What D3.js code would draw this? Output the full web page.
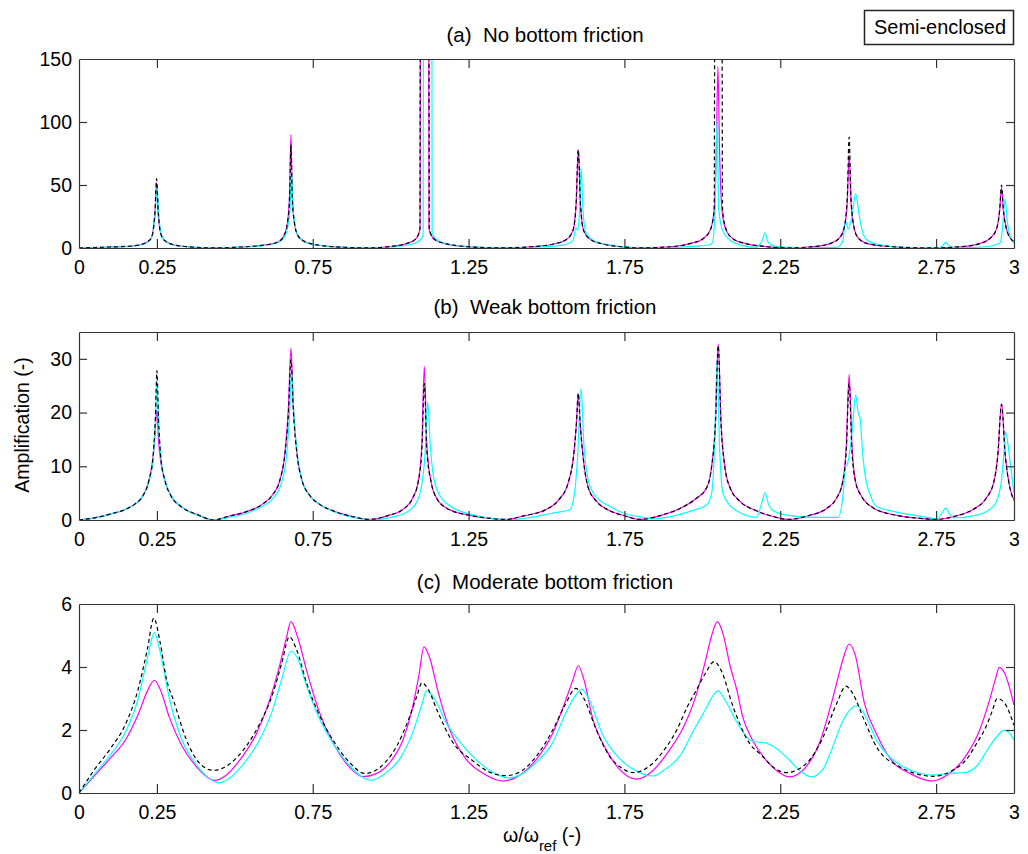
<!DOCTYPE html>
<html>
<head>
<meta charset="utf-8">
<script src="https://cdn.jsdelivr.net/npm/d3@7"></script>
<style>
  html, body { margin: 0; padding: 0; background: #fff; }
  svg { display: block; }
  text { font-family: "Liberation Sans", Arial, sans-serif; fill: #000; }
</style>
</head>
<body>
<svg id="chart" width="1028" height="854"></svg>
<script>
// ---------------- DATA ----------------
const xTicks = [0, 0.25, 0.75, 1.25, 1.75, 2.25, 2.75, 3];
const xTickLabels = ["0", "0.25", "0.75", "1.25", "1.75", "2.25", "2.75", "3"];
const panelTitles = ["(a)  No bottom friction", "(b)  Weak bottom friction", "(c)  Moderate bottom friction"];
const yDomains = [[0, 150], [0, 35], [0, 6]];
const yTicksA = [0, 50, 100, 150];
const yTicksB = [0, 10, 20, 30];
const yTicksC = [0, 2, 4, 6];
const legendLabel = "Semi-enclosed";

// Panel (a): no bottom friction  [omega/omega_ref, amplification]
const aMagenta = [[0,0],[0.1,0.8],[0.17,1.6],[0.2,2.8],[0.22,5],[0.232,8],[0.238,14],[0.244,28],[0.249,52],[0.254,28],[0.26,14],[0.268,8],[0.28,5],[0.3,2.8],[0.34,1.2],[0.43,0.1],[0.52,0.8],[0.6,2.5],[0.64,5],[0.658,10],[0.67,22],[0.676,45],[0.68,90],[0.684,45],[0.69,22],[0.702,10],[0.725,5],[0.77,2.2],[0.85,0.6],[0.93,0.1],[1.0,1.2],[1.05,3.5],[1.08,7],[1.094,15],[1.1,1500],[1.117,1500],[1.123,15],[1.14,7],[1.175,3.5],[1.25,1],[1.35,0.1],[1.45,1],[1.52,3],[1.565,7],[1.585,14],[1.595,35],[1.602,78],[1.609,35],[1.619,14],[1.64,7],[1.685,3],[1.74,1],[1.8,0.1],[1.9,1],[1.96,3.5],[2.0,7],[2.025,14],[2.038,30],[2.045,80],[2.05,144],[2.055,80],[2.063,30],[2.076,14],[2.1,7],[2.14,3.5],[2.2,1.2],[2.28,0.1],[2.36,1.2],[2.41,3.5],[2.44,8],[2.455,16],[2.465,36],[2.471,74],[2.477,36],[2.487,16],[2.5,8],[2.53,3.5],[2.6,1.2],[2.68,0.3],[2.75,0.1],[2.83,1],[2.89,3.5],[2.925,8],[2.945,16],[2.954,30],[2.96,48],[2.966,30],[2.975,16],[2.988,8],[3,5]];
const aCyan = [[0,0],[0.1,0.7],[0.17,1.5],[0.2,2.6],[0.22,4.6],[0.232,7.5],[0.238,13],[0.244,26],[0.25,48],[0.256,26],[0.262,13],[0.27,7.5],[0.282,4.6],[0.3,2.6],[0.34,1.1],[0.43,0.1],[0.52,0.7],[0.6,2.2],[0.64,4.5],[0.66,9],[0.672,20],[0.678,35],[0.682,62],[0.686,35],[0.692,20],[0.704,9],[0.728,4.5],[0.775,2],[0.85,0.5],[0.94,0.1],[1.0,0.8],[1.05,2.2],[1.085,4.5],[1.104,10],[1.11,1500],[1.127,1500],[1.133,12],[1.15,6],[1.185,3],[1.25,1],[1.35,0.1],[1.45,0.6],[1.52,1.5],[1.565,3],[1.585,6],[1.595,16],[1.6,14],[1.606,30],[1.611,64],[1.617,30],[1.627,12],[1.65,6],[1.7,2.5],[1.76,0.8],[1.84,0.1],[1.92,0.6],[1.98,1.5],[2.02,2.4],[2.032,4],[2.041,30],[2.047,101],[2.053,30],[2.065,14],[2.09,6],[2.12,2.5],[2.17,0.5],[2.192,6],[2.201,12],[2.21,5],[2.23,1.5],[2.28,0.5],[2.35,0.3],[2.43,0.5],[2.45,5],[2.46,21],[2.468,15],[2.48,25],[2.492,43],[2.504,25],[2.515,12],[2.53,6],[2.57,2.5],[2.62,1],[2.7,0.3],[2.76,0.3],[2.772,2],[2.781,4.5],[2.79,2],[2.81,0.4],[2.88,0.6],[2.93,1.8],[2.955,4],[2.963,15],[2.971,39],[2.979,20],[2.988,9],[3,4]];
const aBlack = [[0,0],[0.1,0.8],[0.17,1.6],[0.2,2.8],[0.22,5],[0.232,8],[0.238,14],[0.244,30],[0.249,55],[0.254,30],[0.26,14],[0.268,8],[0.28,5],[0.3,2.8],[0.34,1.2],[0.43,0.1],[0.52,0.8],[0.6,2.5],[0.64,5],[0.658,10],[0.67,22],[0.676,42],[0.68,82],[0.684,42],[0.69,22],[0.702,10],[0.725,5],[0.77,2.2],[0.85,0.6],[0.93,0.1],[1.0,1.2],[1.05,3.5],[1.08,7],[1.094,15],[1.099,1500],[1.119,1500],[1.124,15],[1.14,7],[1.175,3.5],[1.25,1],[1.35,0.1],[1.45,1],[1.52,3],[1.565,7],[1.585,14],[1.595,35],[1.602,78],[1.609,35],[1.619,14],[1.64,7],[1.685,3],[1.74,1],[1.8,0.1],[1.9,1],[1.96,3.5],[2.0,7],[2.025,14],[2.038,30],[2.046,1500],[2.057,1500],[2.065,30],[2.078,14],[2.1,7],[2.14,3.5],[2.2,1.2],[2.28,0.1],[2.36,1.2],[2.41,3.5],[2.44,8],[2.455,16],[2.465,40],[2.471,88],[2.477,40],[2.487,16],[2.5,8],[2.53,3.5],[2.6,1.2],[2.68,0.3],[2.75,0.1],[2.83,1],[2.89,3.5],[2.925,8],[2.945,16],[2.954,30],[2.96,50],[2.966,30],[2.975,16],[2.988,8],[3,5]];

// Panel (b): weak bottom friction
const bMagenta = [[0,0],[0.05,0.4],[0.1,1.1],[0.15,2],[0.18,3],[0.205,4.5],[0.225,7.5],[0.238,12],[0.245,17],[0.25,20.5],[0.255,15],[0.262,11],[0.275,7.5],[0.295,4.5],[0.33,2.4],[0.38,1],[0.431,0],[0.48,0.7],[0.54,1.6],[0.59,3],[0.62,4.6],[0.645,7.5],[0.66,12],[0.672,21],[0.68,32],[0.688,21],[0.7,12],[0.715,7.5],[0.74,4.6],[0.77,3],[0.82,1.6],[0.88,0.6],[0.934,0.1],[0.99,0.8],[1.04,2],[1.07,4],[1.088,7],[1.1,14],[1.108,28.6],[1.116,14],[1.13,7],[1.148,4],[1.18,2.2],[1.25,0.9],[1.32,0.3],[1.367,0.1],[1.43,0.8],[1.5,2],[1.54,3.8],[1.57,7],[1.587,12],[1.596,18],[1.602,23.5],[1.608,18],[1.617,12],[1.634,6],[1.66,3.5],[1.7,1.8],[1.75,0.8],[1.8,0.1],[1.87,0.9],[1.93,2.2],[1.98,4],[2.014,6],[2.03,10],[2.042,18],[2.051,32.8],[2.06,18],[2.072,10],[2.089,6],[2.12,3.5],[2.17,1.8],[2.23,0.6],[2.275,0.1],[2.34,0.8],[2.4,2.2],[2.43,4],[2.45,7],[2.462,14],[2.471,27.1],[2.48,14],[2.492,7],[2.51,4.5],[2.55,2.2],[2.62,0.9],[2.7,0.3],[2.746,0.1],[2.81,0.7],[2.87,2],[2.91,4],[2.935,7],[2.948,12],[2.96,21.7],[2.972,12],[2.985,6.5],[3,3.7]];
const bCyan = [[0,0],[0.05,0.4],[0.1,1.1],[0.15,2],[0.18,3],[0.205,4.4],[0.225,7.2],[0.238,11.5],[0.245,18],[0.25,26],[0.255,18],[0.263,11.5],[0.277,7.2],[0.297,4.4],[0.33,2.4],[0.38,0.9],[0.435,0],[0.48,0.5],[0.54,1.3],[0.59,2.6],[0.625,4.2],[0.65,7],[0.665,11.5],[0.675,19],[0.682,27.6],[0.69,19],[0.702,11.5],[0.717,7],[0.742,4.4],[0.775,2.8],[0.82,1.5],[0.88,0.5],[0.94,0.05],[1.0,0.5],[1.05,1.4],[1.08,3],[1.098,6],[1.11,12],[1.119,22],[1.127,14],[1.135,9],[1.15,5.5],[1.17,3.6],[1.2,2.3],[1.26,1.0],[1.32,0.3],[1.38,0.05],[1.45,0.5],[1.52,1.3],[1.575,1.9],[1.59,5],[1.6,12],[1.611,24.5],[1.62,14],[1.632,8],[1.65,5],[1.675,3.5],[1.704,2.5],[1.75,1.2],[1.81,0.5],[1.84,0.2],[1.918,0.9],[1.97,1.8],[2.014,2.8],[2.03,5],[2.04,15],[2.047,29.5],[2.055,14],[2.067,4.8],[2.11,1.7],[2.174,0.5],[2.19,3],[2.201,5.1],[2.212,3],[2.228,1.7],[2.27,0.9],[2.345,0.5],[2.436,0.5],[2.452,5],[2.458,9.6],[2.466,10.5],[2.48,16],[2.492,23.3],[2.5,20],[2.506,19],[2.515,12],[2.522,8.5],[2.54,4.5],[2.559,2.5],[2.613,1.6],[2.72,0.5],[2.752,0.2],[2.768,1.2],[2.781,2.2],[2.795,1],[2.805,0.4],[2.88,0.9],[2.933,2.5],[2.95,4.5],[2.96,7.4],[2.967,12],[2.973,16.4],[2.987,11],[3,5]];
const bBlack = [[0,0],[0.05,0.4],[0.1,1.1],[0.15,2],[0.18,3],[0.205,4.5],[0.225,7.5],[0.238,12],[0.245,19],[0.25,27.8],[0.255,19],[0.262,12],[0.275,7.5],[0.295,4.5],[0.33,2.4],[0.38,1],[0.431,0],[0.48,0.7],[0.54,1.6],[0.59,3],[0.62,4.6],[0.645,7.5],[0.66,12],[0.672,20],[0.68,29.8],[0.688,20],[0.7,12],[0.715,7.5],[0.74,4.6],[0.77,3],[0.82,1.6],[0.88,0.6],[0.934,0.1],[0.99,0.8],[1.04,2],[1.07,4],[1.088,7],[1.1,13],[1.108,25.4],[1.116,13],[1.13,7],[1.148,4],[1.18,2.2],[1.25,0.9],[1.32,0.3],[1.367,0.1],[1.43,0.8],[1.5,2],[1.54,3.8],[1.57,7],[1.587,12],[1.596,18],[1.602,23.6],[1.608,18],[1.617,12],[1.634,6],[1.66,3.5],[1.7,1.8],[1.75,0.8],[1.8,0.1],[1.87,0.9],[1.93,2.2],[1.98,4],[2.014,6],[2.03,10],[2.042,18],[2.051,32.5],[2.06,18],[2.072,10],[2.089,6],[2.12,3.5],[2.17,1.8],[2.23,0.6],[2.275,0.1],[2.34,0.8],[2.4,2.2],[2.43,4],[2.45,7],[2.462,13],[2.471,25.4],[2.48,13],[2.492,7],[2.51,4.5],[2.55,2.2],[2.62,0.9],[2.7,0.3],[2.746,0.1],[2.81,0.7],[2.87,2],[2.91,4],[2.935,7],[2.948,12],[2.96,21.5],[2.972,12],[2.985,6.5],[3,3.7]];

// Panel (c): moderate bottom friction
const cMagenta = [[0,0],[0.05,0.55],[0.1,1.1],[0.15,1.7],[0.19,2.5],[0.22,3.25],[0.242,3.58],[0.26,3.3],[0.29,2.4],[0.33,1.5],[0.38,0.8],[0.42,0.45],[0.435,0.4],[0.47,0.55],[0.52,1.1],[0.57,1.9],[0.61,2.9],[0.64,3.9],[0.665,4.9],[0.68,5.44],[0.7,5.0],[0.73,3.9],[0.77,2.6],[0.82,1.5],[0.87,0.8],[0.91,0.52],[0.95,0.6],[1.0,1.0],[1.04,1.7],[1.07,2.7],[1.09,3.7],[1.107,4.64],[1.125,4.3],[1.15,3.3],[1.19,2.0],[1.24,1.1],[1.3,0.6],[1.36,0.38],[1.42,0.6],[1.47,1.1],[1.52,1.9],[1.56,2.9],[1.585,3.6],[1.602,4.04],[1.62,3.6],[1.65,2.3],[1.69,1.4],[1.73,0.8],[1.789,0.44],[1.84,0.7],[1.89,1.3],[1.94,2.1],[1.98,3.1],[2.01,4.2],[2.03,5.0],[2.048,5.44],[2.065,5.1],[2.09,4.0],[2.11,3.3],[2.13,2.4],[2.16,1.7],[2.2,1.1],[2.24,0.7],[2.279,0.51],[2.33,0.8],[2.38,1.7],[2.41,2.7],[2.43,3.45],[2.45,4.2],[2.471,4.73],[2.49,4.4],[2.52,2.85],[2.56,1.85],[2.61,1.0],[2.67,0.6],[2.736,0.38],[2.79,0.6],[2.84,1.1],[2.89,2.0],[2.92,2.9],[2.94,3.6],[2.953,3.99],[2.97,3.8],[3,2.79]];
const cCyan = [[0,0],[0.05,0.6],[0.1,1.2],[0.15,1.95],[0.19,3.0],[0.22,4.3],[0.242,5.09],[0.26,4.5],[0.29,3.0],[0.33,1.7],[0.38,0.85],[0.42,0.45],[0.447,0.32],[0.48,0.45],[0.53,0.95],[0.58,1.7],[0.62,2.6],[0.65,3.6],[0.68,4.5],[0.7,4.3],[0.73,3.4],[0.77,2.4],[0.82,1.5],[0.87,0.85],[0.91,0.5],[0.938,0.4],[0.98,0.6],[1.03,1.1],[1.07,1.9],[1.1,2.8],[1.115,3.24],[1.14,3.0],[1.18,2.2],[1.22,1.65],[1.27,1.1],[1.32,0.7],[1.35,0.55],[1.38,0.48],[1.42,0.6],[1.47,1.0],[1.52,1.6],[1.56,2.5],[1.59,3.05],[1.613,3.29],[1.64,2.9],[1.68,1.85],[1.72,1.25],[1.77,0.8],[1.81,0.6],[1.843,0.54],[1.88,0.75],[1.93,1.2],[1.97,1.95],[2.01,2.65],[2.035,3.1],[2.051,3.24],[2.07,3.0],[2.11,2.26],[2.15,1.7],[2.174,1.62],[2.2,1.6],[2.24,1.4],[2.28,1.04],[2.32,0.65],[2.35,0.51],[2.39,0.8],[2.41,1.25],[2.452,2.31],[2.48,2.7],[2.497,2.77],[2.52,2.5],[2.559,1.68],[2.6,1.15],[2.645,0.83],[2.7,0.62],[2.741,0.57],[2.79,0.62],[2.843,0.65],[2.88,0.85],[2.923,1.5],[2.95,1.85],[2.966,1.99],[2.98,1.95],[3,1.68]];
const cBlack = [[0,0],[0.05,0.75],[0.1,1.4],[0.15,2.2],[0.19,3.3],[0.22,4.6],[0.24,5.55],[0.26,4.8],[0.281,3.6],[0.303,2.95],[0.345,1.68],[0.388,0.93],[0.431,0.72],[0.48,0.9],[0.53,1.4],[0.58,2.2],[0.62,3.1],[0.65,4.1],[0.675,4.96],[0.7,4.5],[0.73,3.5],[0.77,2.5],[0.82,1.6],[0.87,0.95],[0.918,0.62],[0.97,0.85],[1.02,1.5],[1.06,2.4],[1.085,3.1],[1.1,3.5],[1.12,3.3],[1.15,2.6],[1.2,1.6],[1.26,1.05],[1.32,0.65],[1.37,0.55],[1.42,0.7],[1.47,1.2],[1.52,2.0],[1.56,2.8],[1.594,3.32],[1.62,3.0],[1.66,2.0],[1.7,1.2],[1.74,0.8],[1.779,0.65],[1.83,0.85],[1.88,1.4],[1.918,2.0],[1.95,2.7],[1.981,3.27],[2.01,3.8],[2.038,4.17],[2.06,3.9],[2.1,2.7],[2.15,1.6],[2.19,1.2],[2.23,0.8],[2.27,0.65],[2.33,0.9],[2.388,1.78],[2.431,2.84],[2.461,3.39],[2.48,3.2],[2.52,2.3],[2.559,1.46],[2.63,0.85],[2.69,0.6],[2.74,0.53],[2.8,0.7],[2.85,1.1],[2.88,1.57],[2.91,2.1],[2.93,2.6],[2.946,3.0],[2.97,2.85],[3,2.15]];

// ---------------- DRAWING ----------------
const svg = d3.select("#chart");
const FONT = 19.5;
const TITLE_FONT = 20.5;
const x = d3.scaleLinear().domain([0, 3]).range([79, 1014]);

const panels = [
  { top: 59,  bottom: 248, domain: yDomains[0], ticks: yTicksA, series: [aMagenta, aCyan, aBlack], title: panelTitles[0], titleY: 42 },
  { top: 332, bottom: 520, domain: yDomains[1], ticks: yTicksB, series: [bMagenta, bCyan, bBlack], title: panelTitles[1], titleY: 314 },
  { top: 604, bottom: 793, domain: yDomains[2], ticks: yTicksC, series: [cMagenta, cCyan, cBlack], title: panelTitles[2], titleY: 589 }
];
const styles = [
  { color: "#ff00ff", dash: null },
  { color: "#00ffff", dash: null },
  { color: "#000000", dash: "4,3" }
];

panels.forEach((p, i) => {
  const y = d3.scaleLinear().domain(p.domain).range([p.bottom, p.top]);
  const g = svg.append("g");

  const clipId = "clip" + i;
  svg.append("clipPath").attr("id", clipId)
    .append("rect").attr("x", x(0)).attr("y", p.top)
    .attr("width", x(3) - x(0)).attr("height", p.bottom - p.top);

  const line = d3.line().x(d => x(d[0])).y(d => y(d[1])).curve(d3.curveMonotoneX);
  const lines = g.append("g").attr("clip-path", `url(#${clipId})`);
  p.series.forEach((s, k) => {
    lines.append("path").datum(s)
      .attr("d", line)
      .attr("fill", "none")
      .attr("stroke", styles[k].color)
      .attr("stroke-width", 1.2)
      .attr("stroke-dasharray", styles[k].dash);
  });

  const axisColor = "#333";
  const fmt = (d) => xTickLabels[xTicks.indexOf(d)];
  const gb = g.append("g").attr("transform", `translate(0,${p.bottom})`)
    .call(d3.axisBottom(x).tickValues(xTicks).tickFormat(fmt).tickSize(-9).tickSizeOuter(0).tickPadding(12.2));
  const gt = g.append("g").attr("transform", `translate(0,${p.top})`)
    .call(d3.axisTop(x).tickValues(xTicks).tickFormat("").tickSize(-9).tickSizeOuter(0));
  const gl = g.append("g").attr("transform", `translate(${x(0)},0)`)
    .call(d3.axisLeft(y).tickValues(p.ticks).tickFormat(d3.format("d")).tickSize(-8).tickSizeOuter(0).tickPadding(7));
  const gr = g.append("g").attr("transform", `translate(${x(3)},0)`)
    .call(d3.axisRight(y).tickValues(p.ticks).tickFormat("").tickSize(-8).tickSizeOuter(0));
  [gb, gt, gl, gr].forEach(a => {
    a.selectAll("path.domain").attr("stroke", axisColor).attr("stroke-width", 1.2);
    a.selectAll(".tick line").attr("stroke", axisColor).attr("stroke-width", 1.2);
    a.selectAll("text").attr("font-family", '"Liberation Sans", Arial, sans-serif')
      .attr("font-size", FONT).attr("fill", "#000");
  });
  [gb, gt].forEach(a => a.selectAll(".tick line").filter(d => d === 0 || d === 3).attr("stroke", "none"));
  [gl, gr].forEach(a => a.selectAll(".tick line").filter(d => d === p.domain[0] || d === p.domain[1]).attr("stroke", "none"));

  svg.append("text")
    .attr("x", 545).attr("y", p.titleY)
    .attr("text-anchor", "middle")
    .attr("font-size", TITLE_FONT)
    .style("white-space", "pre")
    .text(p.title);
});

// y-axis label
svg.append("text")
  .attr("transform", "translate(29,425) rotate(-90)")
  .attr("text-anchor", "middle")
  .attr("font-size", FONT)
  .text("Amplification (-)");

// x-axis label
const xl = svg.append("text").attr("x", 503).attr("y", 842).attr("font-size", FONT);
xl.append("tspan").text("ω/ω");
xl.append("tspan").attr("dy", 9).attr("font-size", 15).text("ref");
xl.append("tspan").attr("dy", -9).style("white-space", "pre").text(" (-)");

// legend box
svg.append("rect").attr("x", 864.5).attr("y", 10.5).attr("width", 149).attr("height", 34)
  .attr("fill", "#fff").attr("stroke", "#222").attr("stroke-width", 1.5);
svg.append("text").attr("x", 874).attr("y", 34)
  .attr("font-family", '"DejaVu Sans Condensed", "DejaVu Sans", sans-serif')
  .attr("font-stretch", "condensed")
  .attr("font-size", 20).attr("fill", "#333")
  .attr("textLength", 132).attr("lengthAdjust", "spacingAndGlyphs")
  .text(legendLabel);
</script>
</body>
</html>
